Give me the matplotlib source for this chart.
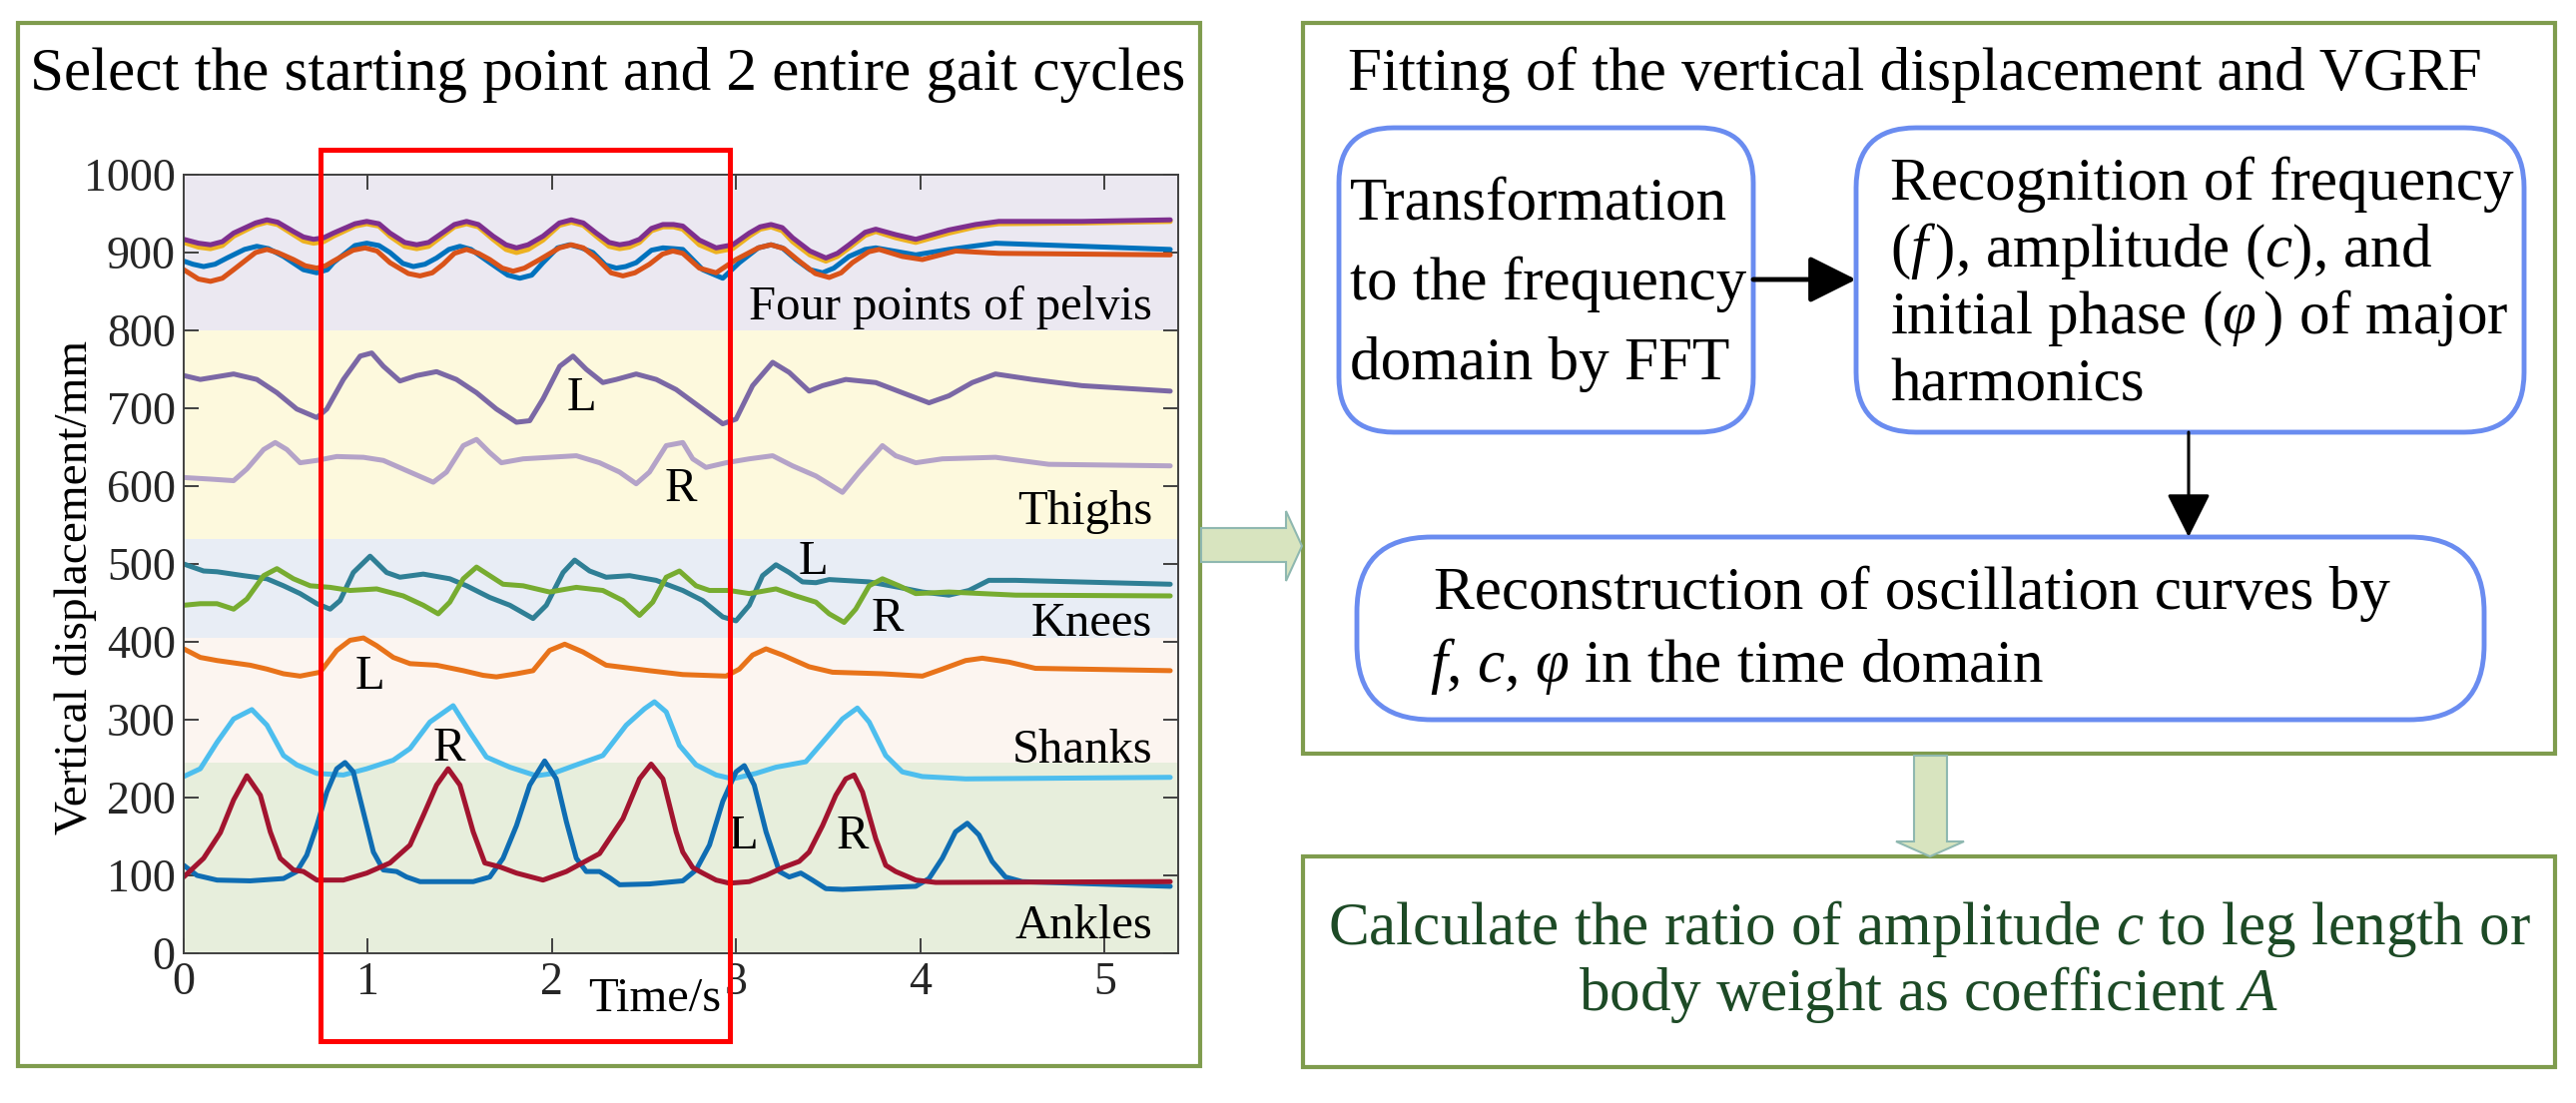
import matplotlib
matplotlib.use('Agg')
import matplotlib.pyplot as plt
from matplotlib.patches import FancyBboxPatch, Rectangle, Polygon

plt.rcParams['font.family'] = ['Liberation Serif', 'DejaVu Serif']
plt.rcParams['mathtext.fontset'] = 'custom'
plt.rcParams['mathtext.rm'] = 'Liberation Serif'
plt.rcParams['mathtext.it'] = 'Liberation Serif:italic'

# ---------------- data ----------------
xticks = [0, 1, 2, 3, 4, 5]
yticks = [0, 100, 200, 300, 400, 500, 600, 700, 800, 900, 1000]

bands = [(800, 1000, '#ebe8f1'), (532, 800, '#fdf9dd'), (405, 532, '#e8edf5'),
         (245, 405, '#fcf5f0'), (0, 245, '#e7eedc')]
band_names = ['Four points of pelvis', 'Thighs', 'Knees', 'Shanks', 'Ankles']
band_name_y = [814, 551, 408, 245, 19]

pel_pu_t = [0.00, 0.08, 0.145, 0.21, 0.271, 0.39, 0.452, 0.51, 0.596, 0.65, 0.705, 0.76, 0.813, 0.93, 0.994,
            1.06, 1.12, 1.20, 1.265, 1.33, 1.391, 1.47, 1.536, 1.60, 1.68, 1.75, 1.807, 1.87, 1.951, 2.04,
            2.105, 2.17, 2.24, 2.31, 2.367, 2.42, 2.475, 2.54, 2.602, 2.66, 2.71, 2.80, 2.891, 2.981, 3.071,
            3.13, 3.189, 3.25, 3.306, 3.40, 3.487, 3.55, 3.613, 3.70, 3.758, 3.866, 3.975, 4.155, 4.30,
            4.426, 4.878, 5.357]
pel_pu_v = [917, 912, 910, 914, 925, 938, 942, 939, 927, 920, 917, 919, 925, 937, 940,
            937, 925, 913, 910, 913, 923, 936, 940, 936, 921, 910, 906, 910, 921, 938,
            942, 938, 925, 913, 910, 912, 917, 931, 936, 936, 934, 916, 906, 910, 925,
            933, 936, 932, 919, 902, 893, 899, 910, 926, 930, 923, 917, 929, 936,
            940, 940, 942]
pel_ye_v = [913, 907, 905, 909, 921, 935, 939, 936, 923, 915, 912, 914, 921, 934, 937,
            934, 921, 908, 905, 908, 919, 933, 937, 933, 917, 904, 900, 904, 916, 935,
            939, 935, 921, 908, 905, 907, 913, 928, 933, 933, 930, 910, 901, 905, 921,
            930, 933, 928, 914, 897, 889, 895, 906, 922, 927, 919, 913, 925, 933,
            937, 938, 940]

pel_bl_t = [0.00, 0.05, 0.108, 0.17, 0.235, 0.33, 0.397, 0.46, 0.542, 0.65, 0.723, 0.78, 0.813, 0.93, 0.994,
            1.06, 1.12, 1.19, 1.247, 1.31, 1.373, 1.44, 1.50, 1.56, 1.662, 1.76, 1.825, 1.89, 1.951, 2.03,
            2.096, 2.16, 2.222, 2.29, 2.349, 2.40, 2.457, 2.54, 2.602, 2.66, 2.71, 2.818, 2.927, 3.017, 3.12,
            3.189, 3.25, 3.324, 3.40, 3.469, 3.53, 3.613, 3.70, 3.758, 3.975, 4.155, 4.408, 5.357]
pel_bl_v = [889, 885, 882, 885, 893, 904, 908, 905, 895, 878, 874, 878, 887, 909, 912,
            909, 900, 886, 882, 885, 893, 904, 908, 904, 887, 871, 867, 871, 887, 906,
            910, 906, 900, 884, 880, 882, 887, 903, 906, 905, 904, 878, 867, 887, 906,
            910, 906, 891, 878, 874, 880, 895, 904, 906, 897, 904, 912, 904]

pel_or_t = [0.00, 0.08, 0.145, 0.21, 0.271, 0.39, 0.452, 0.51, 0.596, 0.66, 0.723, 0.77, 0.813, 0.92, 0.985,
            1.05, 1.12, 1.22, 1.283, 1.35, 1.409, 1.47, 1.536, 1.60, 1.662, 1.73, 1.789, 1.85, 1.933, 2.04,
            2.105, 2.17, 2.24, 2.32, 2.385, 2.45, 2.529, 2.60, 2.656, 2.71, 2.80, 2.891, 2.999, 3.12, 3.189,
            3.26, 3.342, 3.43, 3.505, 3.57, 3.631, 3.72, 3.776, 3.902, 4.011, 4.192, 4.426, 5.357]
pel_or_v = [878, 866, 863, 867, 878, 900, 904, 900, 891, 883, 880, 883, 889, 903, 906,
            902, 887, 873, 870, 874, 885, 899, 904, 899, 891, 880, 876, 880, 891, 906,
            910, 906, 893, 874, 870, 874, 885, 898, 902, 899, 880, 874, 891, 906, 910,
            905, 889, 873, 868, 874, 887, 901, 904, 895, 891, 902, 899, 897]

thigh_l_t = [0.00, 0.09, 0.271, 0.397, 0.506, 0.614, 0.723, 0.777, 0.867, 0.958, 1.021, 1.084, 1.174, 1.265,
             1.373, 1.481, 1.59, 1.698, 1.807, 1.879, 1.951, 2.042, 2.114, 2.186, 2.276, 2.349, 2.457, 2.566,
             2.674, 2.818, 2.927, 2.999, 3.089, 3.198, 3.288, 3.396, 3.469, 3.595, 3.758, 3.902, 4.047, 4.155,
             4.282, 4.408, 4.607, 4.878, 5.357]
thigh_l_v = [742, 737, 744, 737, 720, 699, 688, 699, 737, 767, 771, 754, 735, 742,
             747, 737, 720, 699, 682, 684, 712, 754, 767, 750, 733, 737, 744, 737,
             724, 699, 680, 686, 729, 759, 746, 722, 729, 737, 733, 720, 707, 716,
             733, 744, 737, 729, 722]

thigh_r_t = [0.00, 0.145, 0.271, 0.343, 0.434, 0.497, 0.56, 0.632, 0.723, 0.831, 0.976, 1.084, 1.229, 1.355,
             1.427, 1.518, 1.59, 1.662, 1.725, 1.843, 1.987, 2.132, 2.258, 2.367, 2.457, 2.529, 2.62, 2.71,
             2.764, 2.836, 2.945, 3.071, 3.198, 3.306, 3.433, 3.577, 3.667, 3.794, 3.866, 3.975, 4.119, 4.408,
             4.697, 5.357]
thigh_r_v = [611, 609, 607, 622, 647, 656, 647, 630, 633, 638, 637, 633, 618, 605,
             618, 652, 660, 643, 630, 635, 637, 639, 630, 618, 603, 618, 652, 656,
             635, 624, 630, 635, 639, 626, 613, 592, 618, 652, 639, 630, 635, 637,
             628, 626]

knee_l_t = [0.00, 0.108, 0.181, 0.325, 0.452, 0.542, 0.632, 0.723, 0.795, 0.849, 0.921, 1.012, 1.102, 1.174,
            1.301, 1.445, 1.536, 1.662, 1.771, 1.897, 1.969, 2.06, 2.123, 2.204, 2.294, 2.421, 2.565, 2.71,
            2.818, 2.927, 2.999, 3.071, 3.143, 3.216, 3.288, 3.36, 3.433, 3.505, 3.722, 3.884, 4.011, 4.155,
            4.264, 4.372, 4.517, 5.357]
knee_l_v = [500, 491, 490, 485, 481, 472, 462, 449, 442, 453, 489, 510, 489, 483,
            487, 481, 472, 457, 447, 430, 447, 489, 505, 491, 483, 485, 479, 466,
            453, 432, 427, 447, 485, 499, 489, 477, 476, 480, 477, 470, 464, 460,
            466, 479, 479, 474]

knee_r_t = [0.00, 0.09, 0.181, 0.271, 0.343, 0.434, 0.506, 0.596, 0.687, 0.795, 0.903, 1.048, 1.192, 1.301,
            1.382, 1.445, 1.518, 1.59, 1.662, 1.734, 1.843, 1.987, 2.132, 2.276, 2.385, 2.475, 2.547, 2.62,
            2.692, 2.782, 2.855, 2.963, 3.071, 3.216, 3.324, 3.433, 3.505, 3.586, 3.649, 3.722, 3.794, 3.884,
            3.975, 4.155, 4.517, 5.357]
knee_r_v = [447, 449, 449, 442, 455, 485, 494, 481, 472, 470, 466, 468, 459, 447,
            436, 451, 481, 496, 485, 474, 472, 464, 470, 466, 453, 434, 451, 483,
            491, 472, 466, 466, 462, 468, 459, 451, 436, 425, 442, 472, 481, 472,
            462, 464, 460, 459]

shank_l_t = [0.00, 0.09, 0.181, 0.361, 0.452, 0.542, 0.632, 0.741, 0.831, 0.903, 0.976, 1.048, 1.138, 1.229,
             1.373, 1.518, 1.626, 1.698, 1.807, 1.897, 1.987, 2.069, 2.168, 2.294, 2.529, 2.71, 2.945, 3.017,
             3.089, 3.162, 3.252, 3.396, 3.523, 3.794, 4.011, 4.119, 4.246, 4.336, 4.481, 4.625, 5.357]
shank_l_v = [391, 380, 376, 370, 365, 359, 356, 361, 389, 402, 405, 395, 380, 372,
             370, 363, 357, 355, 359, 363, 389, 397, 387, 370, 363, 358, 356, 365,
             383, 391, 383, 368, 361, 359, 356, 365, 376, 379, 374, 366, 363]

shank_r_t = [0.00, 0.09, 0.181, 0.271, 0.37, 0.452, 0.542, 0.614, 0.723, 0.867, 0.994, 1.138, 1.229, 1.337,
             1.463, 1.554, 1.644, 1.771, 1.915, 2.005, 2.132, 2.276, 2.403, 2.502, 2.556, 2.62, 2.692, 2.782,
             2.891, 2.981, 3.107, 3.216, 3.378, 3.469, 3.577, 3.658, 3.722, 3.812, 3.902, 4.011, 4.246, 5.357]
shank_r_v = [227, 237, 271, 301, 313, 293, 254, 242, 231, 229, 237, 248, 263, 297,
             318, 284, 252, 239, 228, 231, 242, 254, 293, 314, 323, 310, 267, 242,
             229, 224, 231, 239, 246, 271, 301, 315, 297, 254, 233, 227, 224, 226]

ankle_l_t = [0.00, 0.072, 0.181, 0.361, 0.542, 0.614, 0.668, 0.723, 0.777, 0.831, 0.876, 0.921, 0.976, 1.03,
             1.084, 1.156, 1.21, 1.283, 1.572, 1.662, 1.734, 1.807, 1.879, 1.96, 2.023, 2.078, 2.132, 2.186,
             2.258, 2.313, 2.367, 2.529, 2.71, 2.782, 2.855, 2.927, 2.999, 3.044, 3.098, 3.162, 3.234, 3.288,
             3.351, 3.414, 3.487, 3.577, 3.975, 4.047, 4.119, 4.191, 4.255, 4.318, 4.39, 4.462, 4.553, 5.357]
ankle_l_v = [113, 100, 94, 93, 96, 105, 126, 164, 207, 237, 245, 233, 181, 130,
             107, 105, 98, 92, 92, 98, 122, 164, 216, 247, 224, 169, 122, 105,
             105, 97, 88, 89, 93, 107, 139, 195, 233, 241, 216, 156, 105, 98,
             103, 94, 83, 82, 86, 96, 122, 156, 167, 152, 118, 98, 92, 86]

ankle_r_t = [0.00, 0.108, 0.199, 0.271, 0.343, 0.416, 0.47, 0.524, 0.596, 0.65, 0.723, 0.867, 0.994, 1.12,
             1.229, 1.301, 1.373, 1.436, 1.50, 1.572, 1.635, 1.716, 1.807, 1.951, 2.078, 2.258, 2.385, 2.475,
             2.538, 2.602, 2.674, 2.71, 2.764, 2.818, 2.891, 2.963, 3.071, 3.162, 3.252, 3.342, 3.396, 3.469,
             3.541, 3.595, 3.64, 3.686, 3.758, 3.812, 3.866, 3.975, 4.083, 5.357]
ankle_r_v = [98, 122, 155, 197, 228, 203, 156, 122, 107, 105, 94, 94, 103, 116,
             139, 177, 216, 237, 216, 156, 116, 111, 103, 94, 105, 128, 173, 224,
             243, 224, 156, 130, 110, 103, 94, 90, 92, 100, 110, 118, 130, 164,
             203, 224, 229, 207, 147, 113, 105, 94, 91, 92]

series = [
    (pel_bl_t, pel_bl_v, '#0072BD'),
    (pel_or_t, pel_or_v, '#D95319'),
    (pel_pu_t, pel_ye_v, '#EDB120'),
    (pel_pu_t, pel_pu_v, '#7E2F8E'),
    (thigh_l_t, thigh_l_v, '#7b68a5'),
    (thigh_r_t, thigh_r_v, '#b4a3c8'),
    (knee_l_t, knee_l_v, '#2f7f95'),
    (knee_r_t, knee_r_v, '#77AC30'),
    (shank_l_t, shank_l_v, '#E8731A'),
    (shank_r_t, shank_r_v, '#4DBEEE'),
    (ankle_l_t, ankle_l_v, '#0F6DB3'),
    (ankle_r_t, ankle_r_v, '#A2142F'),
]

side_labels = [('L', 2.16, 697), ('R', 2.70, 581), ('L', 3.42, 487), ('R', 3.82, 414),
               ('L', 1.01, 340), ('R', 1.44, 248), ('L', 3.04, 135), ('R', 3.63, 135)]

sel_start, sel_end = 0.743, 2.965   # selected two gait cycles (s)

# ---------------- figure ----------------
W, H = 2580, 1105
fig = plt.figure(figsize=(W / 100, H / 100), dpi=100)
ov = fig.add_axes([0, 0, 1, 1], zorder=1)
ov.set_xlim(0, W)
ov.set_ylim(H, 0)
ov.axis('off')

green = '#7f9c4e'
blue_box = '#6a8cf0'

# panel frames
ov.add_patch(Rectangle((18, 23), 1202 - 18, 1068 - 23, fill=False, ec=green, lw=3))
ov.add_patch(Rectangle((1305, 23), 2559 - 1305, 755 - 23, fill=False, ec=green, lw=3))
ov.add_patch(Rectangle((1305, 858), 2559 - 1305, 1069 - 858, fill=False, ec=green, lw=3))

# titles
ov.text(30, 90, 'Select the starting point and 2 entire gait cycles', fontsize=44, va='baseline')
ov.text(1350, 90, 'Fitting of the vertical displacement and VGRF', fontsize=44, va='baseline')

# rounded boxes
ov.add_patch(FancyBboxPatch((1341, 128), 1756 - 1341, 433 - 128,
                            boxstyle='round,pad=0,rounding_size=55', fc='white', ec=blue_box, lw=3.5))
ov.add_patch(FancyBboxPatch((1859, 128), 2528 - 1859, 433 - 128,
                            boxstyle='round,pad=0,rounding_size=60', fc='white', ec=blue_box, lw=3.5))
ov.add_patch(FancyBboxPatch((1359, 538), 2488 - 1359, 721 - 538,
                            boxstyle='round,pad=0,rounding_size=75', fc='white', ec=blue_box, lw=3.5))

for i, line in enumerate(['Transformation', 'to the frequency', 'domain by FFT']):
    ov.text(1352, 220 + i * 80, line, fontsize=44, va='baseline')
for i, line in enumerate(['Recognition of frequency', r'($f\,$), amplitude ($c$), and',
                          r'initial phase ($\varphi\,$) of major', 'harmonics']):
    ov.text(1893, 200 + i * 67, line, fontsize=44, va='baseline')
ov.text(1436, 610, 'Reconstruction of oscillation curves by', fontsize=44, va='baseline')
ov.text(1432, 683, r'$f$, $c$, $\varphi$ in the time domain', fontsize=44, va='baseline')

dark_green = '#1d4a26'
ov.text(1932, 946, r'Calculate the ratio of amplitude $c$ to leg length or', fontsize=44,
        va='baseline', ha='center', color=dark_green)
ov.text(1932, 1012, r'body weight as coefficient $A$', fontsize=44,
        va='baseline', ha='center', color=dark_green)

# black arrows
ov.annotate('', xy=(1859, 280), xytext=(1756, 280),
            arrowprops=dict(arrowstyle='-|>,head_length=0.4,head_width=0.2', lw=3.5, color='black',
                            mutation_scale=72, shrinkA=0, shrinkB=0))
ov.annotate('', xy=(2192, 538), xytext=(2192, 433),
            arrowprops=dict(arrowstyle='-|>,head_length=0.4,head_width=0.2', lw=2.2, color='black',
                            mutation_scale=68, shrinkA=0, shrinkB=0))

# big light-green arrows
arrow_fc, arrow_ec = '#d8e4bf', '#8fb8b0'
ov.add_patch(Polygon([(1203, 529), (1288, 529), (1288, 512), (1304, 547), (1288, 582), (1288, 563),
                      (1203, 563)], closed=True, fc=arrow_fc, ec=arrow_ec, lw=1.5))
ov.add_patch(Polygon([(1917, 757), (1950, 757), (1950, 843), (1967, 843), (1933, 858), (1899, 843),
                      (1917, 843)], closed=True, fc=arrow_fc, ec=arrow_ec, lw=1.5))

# ---------------- plot ----------------
ax = fig.add_axes([184 / W, 1 - 955 / H, (1180 - 184) / W, (955 - 175) / H], zorder=2)
ax.set_xlim(0, 5.4)
ax.set_ylim(0, 1000)
for lo, hi, c in bands:
    ax.axhspan(lo, hi, color=c, lw=0, zorder=0)

for t, v, c in series:
    ax.plot(t, v, color=c, lw=3.6, solid_joinstyle='round', solid_capstyle='round', zorder=2)

for name, yb in zip(band_names, band_name_y):
    ax.text(5.26, yb, name, fontsize=35, ha='right', va='baseline', zorder=3)
for s, x, y in side_labels:
    ax.text(x, y, s, fontsize=35, ha='center', va='baseline', zorder=3)

ax.set_xticks(xticks)
ax.set_yticks(yticks)
ax.tick_params(direction='in', top=True, right=True, length=11, width=1.4, color='#404040',
               labelsize=33, labelcolor='#262626', pad=6)
for sp in ax.spines.values():
    sp.set_color('#404040')
    sp.set_linewidth(1.4)

ax.set_ylabel('Vertical displacement/mm', fontsize=34, va='center')
ax.yaxis.set_label_coords(-0.109, 0.47)
ax.set_xlabel('Time/s', fontsize=35, va='baseline')
ax.xaxis.set_label_coords(0.474, -0.0744)

# red selection rectangle (2 gait cycles)
ax.add_patch(Rectangle((sel_start, -113), sel_end - sel_start, 1032 + 113, fill=False,
                       ec='#ff0000', lw=3.6, clip_on=False, zorder=5))

fig.savefig('out.png', dpi=100)
